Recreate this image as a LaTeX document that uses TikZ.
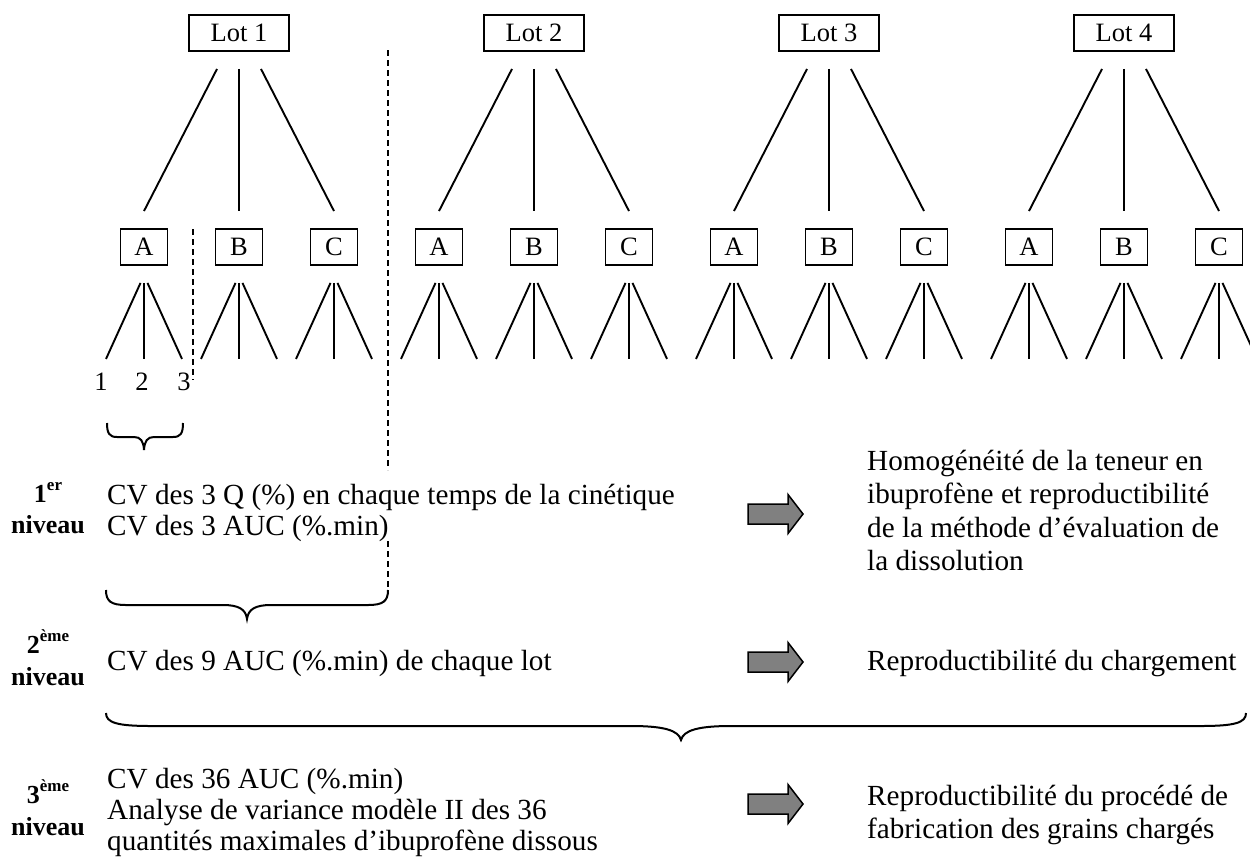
\documentclass[tikz,border=0pt]{standalone}
\usepackage{fontspec}
\setmainfont{Liberation Serif}
\definecolor{arrowgray}{RGB}{128,128,128}
\tikzset{
  lotbox/.style={draw, line width=1.9pt, minimum width=100pt, minimum height=36pt, inner sep=0pt, font=\fontsize{26.5}{26.5}\selectfont},
  subbox/.style={lotbox, minimum width=47pt},
  link/.style={line width=1.9pt},
  sepline/.style={line width=1.7pt, dash pattern=on 6pt off 4pt},
  leaf/.style={anchor=base, inner sep=0pt, font=\fontsize{26.5}{26.5}\selectfont},
  txt/.style={anchor=base west, inner sep=0pt, font=\fontsize{29.2}{29.2}\selectfont},
  lvl/.style={anchor=base, inner sep=0pt, font=\fontsize{26}{26}\selectfont\bfseries},
  bigarrow/.style={draw, line width=1.5pt, fill=arrowgray, line join=miter},
  bracepath/.style={line width=2pt},
}
\newcommand{\lvlsup}[1]{\raisebox{11.5pt}{\fontsize{17}{17}\selectfont #1}}
% x1 x2 ytop yflat tipx tipy r r2
\newcommand{\wbrace}[8]{%
  \draw[bracepath] (#1,#3) .. controls (#1,{#3+0.75*(#4-#3)}) and ({#1+0.25*#7},#4) .. ({#1+#7},#4)
   -- ({#5-#8},#4) .. controls ({#5-0.35*#8},#4) and ({#5-0.05*#8},{#4+0.3*(#6-#4)}) .. (#5,#6)
   .. controls ({#5+0.05*#8},{#4+0.3*(#6-#4)}) and ({#5+0.35*#8},#4) .. ({#5+#8},#4)
   -- ({#2-#7},#4) .. controls ({#2-0.25*#7},#4) and (#2,{#3+0.75*(#4-#3)}) .. (#2,#3);}
\newcommand{\blockarrow}[1]{%
  \draw[bigarrow] (748,{#1-10}) -- (788,{#1-10}) -- (788,{#1-19.5}) -- (803,#1)
   -- (788,{#1+19.5}) -- (788,{#1+10}) -- (748,{#1+10}) -- cycle;}
\begin{document}
\begin{tikzpicture}[x=1pt,y=-1pt]
\useasboundingbox (0,0) rectangle (1250,860);

% tree
\foreach \L/\cx in {1/239,2/534,3/829,4/1124}{
  \node[lotbox] (L\L) at (\cx,33) {Lot \L};
  \foreach \S/\dx in {A/-95,B/0,C/95}{
    \node[subbox] (\S\L) at ({\cx+(\dx)},247) {\S};
    \draw[link] ([xshift={\dx*22/95},yshift=-17pt]L\L.south) -- ([yshift=17pt]\S\L.north);
    \coordinate (\S\L-1) at ([xshift=-38pt,yshift=-93pt]\S\L.south);
    \coordinate (\S\L-2) at ([yshift=-93pt]\S\L.south);
    \coordinate (\S\L-3) at ([xshift=38pt,yshift=-93pt]\S\L.south);
    \draw[link] ([xshift=-3.5pt,yshift=-17pt]\S\L.south) -- (\S\L-1);
    \draw[link] ([yshift=-17pt]\S\L.south) -- (\S\L-2);
    \draw[link] ([xshift=3.5pt,yshift=-17pt]\S\L.south) -- (\S\L-3);
  }
}

% leaf numbers
\node[leaf] (num1) at (101,390) {1};
\node[leaf] (num2) at (142,390) {2};
\node[leaf] (num3) at (184,390) {3};

% dashed separators
\coordinate (d1a) at (193,229);
\coordinate (d1b) at (193,380);
\draw[sepline] (d1a) -- (d1b);
\coordinate (d2a) at (388,50);
\coordinate (d2b) at (388,470);
\coordinate (d2c) at (388,541);
\coordinate (d2d) at (388,590);
\draw[sepline] (d2a) -- (d2b);
\draw[sepline] (d2c) -- (d2d);

% braces
\wbrace{107}{183}{423}{437}{144}{450}{10}{10}
\wbrace{106}{388}{590}{605}{247}{619}{20}{24}
\wbrace{106}{1246}{713}{726}{681}{740}{45}{50}

% level labels
\node[lvl] (lv1a) at (48,502) {1\lvlsup{er}};
\node[lvl] (lv1b) at (48,533) {niveau};
\node[lvl] (lv2a) at (48,653) {2\lvlsup{ème}};
\node[lvl] (lv2b) at (48,685) {niveau};
\node[lvl] (lv3a) at (48,803) {3\lvlsup{ème}};
\node[lvl] (lv3b) at (48,835) {niveau};

% left texts
\node[txt] (t1a) at (107,504) {CV des 3 Q (\%) en chaque temps de la cinétique};
\node[txt] (t1b) at (107,535) {CV des 3 AUC (\%.min)};
\node[txt] (t2a) at (107,670) {CV des 9 AUC (\%.min) de chaque lot};
\node[txt] (t3a) at (107,788) {CV des 36 AUC (\%.min)};
\node[txt] (t3b) at (107,819) {Analyse de variance modèle II des 36};
\node[txt] (t3c) at (107,850) {quantités maximales d’ibuprofène dissous};

% arrows
\blockarrow{514}
\blockarrow{662}
\blockarrow{804}

% right texts
\node[txt] (r1a) at (867,470) {Homogénéité de la teneur en};
\node[txt] (r1b) at (867,503.5) {ibuprofène et reproductibilité};
\node[txt] (r1c) at (867,537) {de la méthode d’évaluation de};
\node[txt] (r1d) at (867,570.5) {la dissolution};
\node[txt] (r2a) at (867,670) {Reproductibilité du chargement};
\node[txt] (r3a) at (867,805) {Reproductibilité du procédé de};
\node[txt] (r3b) at (867,838) {fabrication des grains chargés};
\end{tikzpicture}
\end{document}
